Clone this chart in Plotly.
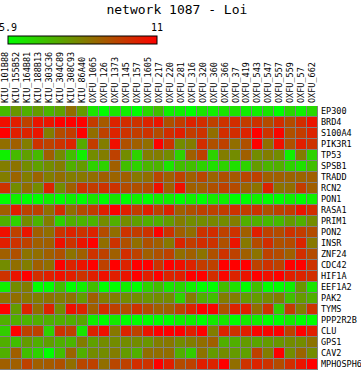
import plotly.graph_objects as go

columns = ["KIU_101B88", "KIU_155B52", "KIU_164B81", "KIU_188B13", "KIU_303C36",
           "KIU_304C89", "KIU_308C93", "KIU_86A40", "OXFU_1065", "OXFU_126",
           "OXFU_1373", "OXFU_145", "OXFU_157", "OXFU_1605", "OXFU_217",
           "OXFU_220", "OXFU_281", "OXFU_316", "OXFU_320", "OXFU_360",
           "OXFU_366", "OXFU_37", "OXFU_419", "OXFU_543", "OXFU_547",
           "OXFU_557", "OXFU_559", "OXFU_57", "OXFU_662"]

genes = ["EP300", "BRD4", "S100A4", "PIK3R1", "TP53", "SPSB1", "TRADD", "RCN2",
         "PON1", "RASA1", "PRIM1", "PON2", "INSR", "ZNF24", "CDC42", "HIF1A",
         "EEF1A2", "PAK2", "TYMS", "PPP2R2B", "CLU", "GPS1", "CAV2", "MPHOSPH6"]

EP300 = [7.3, 8.0, 7.5, 7.9, 7.4, 7.8, 8.8, 7.9, 6.4, 5.9, 6.4, 6.2, 5.9, 6.7, 7.2, 6.2, 6.2, 5.9, 6.4, 6.2, 6.4, 6.5, 6.2, 6.2, 6.4, 5.9, 6.7, 6.2, 6.7]
BRD4 = [10.7, 10.4, 9.7, 10.6, 10.6, 11.0, 11.0, 11.0, 9.8, 9.2, 10.3, 10.1, 10.0, 10.3, 10.6, 9.4, 9.8, 10.3, 10.1, 9.7, 10.0, 10.1, 9.8, 10.0, 9.5, 10.1, 9.5, 10.1, 10.6]
S100A4 = [11.0, 10.4, 10.3, 10.6, 8.5, 9.5, 9.8, 11.0, 8.8, 9.7, 10.3, 10.0, 9.8, 10.0, 9.5, 10.1, 10.4, 9.8, 10.0, 8.8, 10.1, 10.1, 10.3, 11.0, 10.0, 10.9, 9.4, 9.8, 10.3]
PIK3R1 = [8.8, 9.1, 8.5, 10.0, 9.7, 10.0, 10.3, 7.6, 9.8, 8.5, 10.7, 9.4, 9.1, 8.8, 11.0, 10.0, 8.2, 8.5, 10.1, 9.4, 9.7, 8.8, 9.4, 11.0, 8.8, 10.7, 9.4, 10.4, 10.0]
TP53 = [6.2, 7.3, 7.8, 7.3, 9.1, 8.2, 7.2, 6.2, 8.2, 8.5, 9.7, 8.2, 6.8, 8.5, 8.5, 8.2, 6.8, 9.1, 9.7, 6.8, 8.5, 8.2, 9.1, 8.2, 8.5, 8.2, 6.2, 8.5, 6.8]
SPSB1 = [8.5, 8.7, 8.2, 7.8, 8.2, 8.5, 7.5, 7.9, 6.8, 6.8, 9.1, 7.2, 6.8, 7.4, 7.4, 6.4, 7.2, 7.2, 6.8, 6.5, 6.8, 6.5, 6.8, 7.9, 7.4, 7.5, 6.8, 6.5, 7.2]
TRADD = [8.5, 9.0, 8.5, 9.0, 8.5, 8.8, 8.5, 8.6, 8.8, 9.1, 9.0, 9.1, 8.6, 8.8, 9.6, 9.1, 9.7, 9.1, 9.6, 9.0, 9.4, 9.2, 9.6, 9.7, 9.1, 9.1, 9.0, 9.0, 9.1]
RCN2 = [10.0, 8.2, 8.8, 8.2, 10.3, 8.2, 9.1, 10.0, 9.8, 10.0, 10.0, 9.5, 9.4, 9.5, 10.7, 9.1, 10.7, 9.1, 9.1, 9.4, 9.7, 9.5, 9.0, 8.7, 10.3, 8.7, 8.8, 9.8, 9.1]
PON1 = [5.9, 6.2, 5.9, 5.9, 6.2, 5.9, 6.2, 5.9, 6.4, 5.9, 6.4, 5.9, 6.2, 5.9, 6.2, 6.2, 5.9, 6.2, 5.9, 6.3, 6.2, 5.9, 5.9, 6.2, 5.9, 5.9, 6.2, 5.9, 6.2]
RASA1 = [9.1, 10.4, 9.7, 9.7, 8.8, 10.1, 8.8, 9.5, 9.8, 10.4, 11.0, 10.4, 9.8, 10.4, 9.7, 10.3, 9.1, 9.4, 9.7, 9.7, 9.8, 10.0, 9.8, 10.0, 9.4, 9.7, 9.8, 10.6, 10.1]
PRIM1 = [7.5, 6.8, 8.2, 7.4, 8.5, 6.8, 7.5, 7.4, 7.4, 8.2, 7.5, 8.2, 7.8, 7.5, 7.5, 7.9, 8.5, 8.2, 8.2, 8.3, 8.2, 8.5, 7.5, 7.5, 7.3, 7.3, 7.9, 7.5, 8.2]
PON2 = [10.7, 9.7, 10.6, 9.1, 8.8, 10.0, 10.3, 10.0, 10.3, 9.5, 8.8, 10.0, 9.8, 10.0, 11.0, 10.0, 9.1, 8.8, 10.0, 10.1, 9.7, 10.0, 9.1, 10.4, 9.7, 9.5, 10.0, 9.8, 9.5]
INSR = [10.4, 10.0, 9.7, 9.1, 9.1, 10.7, 10.0, 10.6, 11.0, 8.8, 10.0, 9.4, 8.8, 9.4, 9.1, 8.6, 10.3, 9.8, 10.1, 10.0, 9.4, 10.6, 8.6, 9.5, 10.1, 9.4, 9.5, 10.3, 8.6]
ZNF24 = [9.1, 9.4, 8.7, 8.8, 9.1, 9.4, 8.7, 9.1, 10.0, 9.7, 9.1, 10.1, 9.7, 9.1, 9.4, 9.7, 8.8, 9.1, 8.7, 9.4, 10.0, 9.7, 9.1, 8.7, 9.7, 9.5, 9.1, 10.1, 9.5]
CDC42 = [8.2, 8.8, 8.5, 9.1, 8.8, 11.0, 10.3, 10.6, 11.0, 9.7, 11.0, 10.3, 11.0, 11.0, 10.0, 11.0, 10.7, 10.3, 9.8, 9.7, 11.0, 11.0, 11.0, 9.7, 10.0, 9.7, 11.0, 11.0, 10.0]
HIF1A = [10.0, 10.6, 11.0, 10.1, 10.4, 10.7, 10.4, 10.0, 10.4, 10.7, 10.4, 10.6, 11.0, 10.4, 11.0, 10.3, 10.4, 11.0, 11.0, 10.1, 10.9, 10.3, 10.6, 11.0, 10.7, 11.0, 10.4, 10.3, 10.1]
EEF1A2 = [6.2, 8.2, 8.5, 5.9, 5.9, 7.2, 5.9, 6.2, 7.2, 5.9, 5.9, 6.2, 5.9, 6.8, 7.2, 6.4, 6.7, 6.2, 5.9, 5.9, 7.2, 6.5, 5.9, 7.2, 5.9, 5.9, 6.2, 8.0, 6.4]
PAK2 = [8.7, 8.8, 8.6, 8.5, 8.7, 8.5, 8.7, 7.9, 9.1, 8.5, 8.5, 8.2, 8.2, 8.0, 8.2, 8.2, 6.8, 8.5, 7.5, 7.2, 8.5, 8.5, 7.9, 7.9, 8.2, 8.5, 7.2, 7.9, 7.5]
TYMS = [11.0, 7.9, 10.3, 8.8, 10.3, 8.2, 10.7, 10.3, 9.1, 10.1, 9.7, 9.5, 10.0, 9.5, 9.1, 9.1, 9.7, 10.3, 11.0, 10.9, 9.4, 10.3, 10.4, 8.8, 10.0, 6.9, 9.8, 8.5, 10.0]
PPP2R2B = [7.5, 7.5, 7.4, 7.5, 7.5, 7.5, 7.5, 7.7, 6.2, 5.9, 6.3, 5.9, 5.9, 5.9, 5.9, 5.9, 6.2, 6.2, 5.9, 6.3, 6.4, 5.9, 6.3, 6.2, 5.9, 5.9, 6.3, 5.9, 5.9]
CLU = [6.9, 11.0, 9.7, 9.7, 6.8, 10.0, 9.7, 6.4, 10.3, 10.7, 8.6, 10.3, 9.7, 10.6, 11.0, 11.0, 11.0, 10.4, 11.0, 8.5, 10.3, 10.0, 10.4, 10.9, 10.9, 11.0, 9.7, 11.0, 10.4]
GPS1 = [7.5, 7.2, 7.9, 7.5, 7.8, 7.5, 7.4, 8.5, 7.8, 8.2, 8.2, 8.2, 8.2, 8.0, 8.5, 8.6, 8.2, 8.5, 8.8, 9.1, 7.5, 7.5, 7.9, 7.7, 7.9, 8.0, 8.2, 8.2, 8.7]
CAV2 = [7.5, 9.1, 7.2, 6.8, 5.9, 7.2, 9.0, 7.5, 8.2, 8.2, 8.5, 7.9, 7.5, 8.8, 8.8, 8.8, 7.5, 6.9, 8.7, 7.9, 8.2, 7.9, 7.8, 9.7, 8.5, 11.0, 8.2, 9.0, 8.2]
MPHOSPH6 = [9.1, 9.1, 9.7, 9.1, 9.2, 9.4, 8.8, 9.6, 9.7, 8.8, 9.6, 9.7, 10.1, 10.0, 11.0, 10.4, 9.5, 9.7, 10.4, 10.3, 11.0, 8.8, 10.0, 10.3, 10.0, 9.5, 10.1, 10.6, 11.0]

z_min = 5.9
z_max = 11.0
scale_ticks = ["5.9", "11"]

z = [EP300, BRD4, S100A4, PIK3R1, TP53, SPSB1, TRADD, RCN2, PON1, RASA1, PRIM1,
     PON2, INSR, ZNF24, CDC42, HIF1A, EEF1A2, PAK2, TYMS, PPP2R2B, CLU, GPS1,
     CAV2, MPHOSPH6]

FONT = "DejaVu Sans Mono"
W, H = 361, 370
ML, MR, MT, MB = 0, 43, 106, 0
plot_w = W - ML - MR
plot_h = H - MT - MB

# colour-bar geometry (pixels in the page)
CB_X0, CB_X1, CB_TOP, CB_THICK = 8, 157, 36, 8


def px_x(px):
    return (px - ML) / plot_w


def px_y(py):
    return (H - MB - py) / plot_h


fig = go.Figure(go.Heatmap(
    z=z, x=columns, y=genes,
    zmin=z_min, zmax=z_max,
    colorscale=[[0, "#00ff00"], [1, "#ff0000"]],
    xgap=1, ygap=1,
    hoverinfo="skip",
    colorbar=dict(
        orientation="h",
        lenmode="pixels", len=CB_X1 - CB_X0,
        thickness=CB_THICK, thicknessmode="pixels",
        x=px_x(CB_X0), xanchor="left",
        y=px_y(CB_TOP), yanchor="top",
        xpad=0, ypad=0,
        outlinewidth=1, outlinecolor="black",
        ticks="", showticklabels=False,
    ),
))

# colour-bar end labels above the bar
for val_txt, px in zip(scale_ticks, [CB_X0, CB_X1]):
    fig.add_annotation(
        text=val_txt, xref="paper", yref="paper",
        x=px_x(px), y=px_y(CB_TOP - 1), xanchor="center", yanchor="bottom",
        showarrow=False, font=dict(family=FONT, size=10, color="black"),
    )

fig.update_layout(
    width=W, height=H,
    margin=dict(l=ML, r=MR, t=MT, b=MB),
    paper_bgcolor="white",
    plot_bgcolor="#808080",
    title=dict(text="network 1087 - Loi", x=0.49, xanchor="center",
               y=1 - 9.5 / H, yanchor="middle", yref="container",
               font=dict(family=FONT, size=13, color="black")),
    xaxis=dict(side="top", tickangle=-90, showgrid=False, zeroline=False,
               ticks="", tickfont=dict(family=FONT, size=8.5, color="black"),
               ticklabelstandoff=2, fixedrange=True),
    yaxis=dict(side="right", autorange="reversed", showgrid=False, zeroline=False,
               ticks="", tickfont=dict(family=FONT, size=8.5, color="black"),
               ticklabelstandoff=2, fixedrange=True),
)

fig.write_html(
    "out.html",
    config={"displayModeBar": False, "staticPlot": True},
    post_script="document.body.style.margin='0';"
                "document.documentElement.style.overflow='hidden';",
)
